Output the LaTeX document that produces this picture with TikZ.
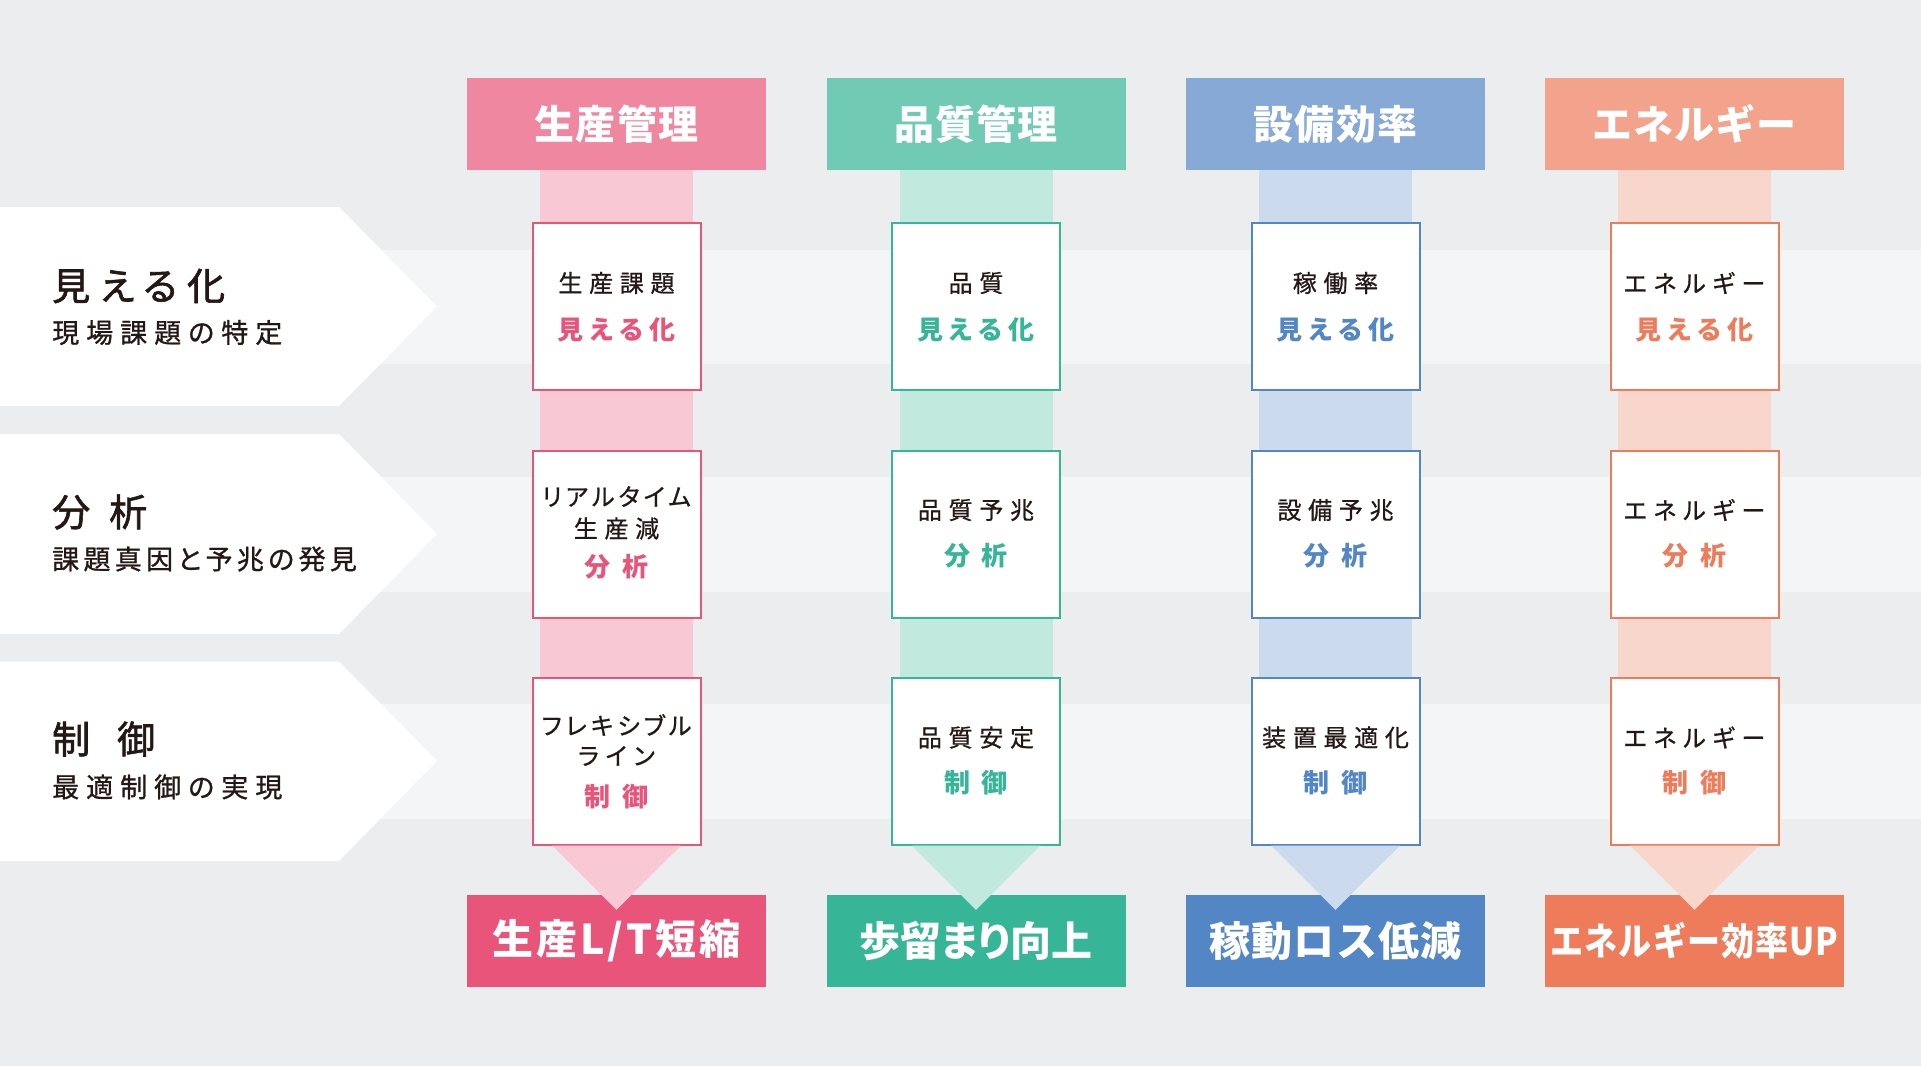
\documentclass[tikz,border=0pt]{standalone}
\usepackage{fontspec}
\setmainfont{Noto Sans CJK JP}
\newfontfamily\jphead[LetterSpace=3]{Noto Sans CJK JP}
\newfontfamily\jpwide[LetterSpace=7]{Noto Sans CJK JP}
\newfontfamily\jptight[LetterSpace=0,RawFeature=+palt]{Noto Sans CJK JP}
\newfontfamily\jpbox[LetterSpace=28,RawFeature=+palt,FakeBold=0.8]{Noto Sans CJK JP}
\newfontfamily\jpboxk[LetterSpace=17,RawFeature=+palt,FakeBold=0.8]{Noto Sans CJK JP}
\newfontfamily\jpcol[LetterSpace=24,RawFeature=+palt]{Noto Sans CJK JP}
\newfontfamily\jpleftt[LetterSpace=26,RawFeature=+palt,FakeBold=1.6]{Noto Sans CJK JP}
\newfontfamily\jpleft[LetterSpace=26,RawFeature=+palt,FakeBold=0.9]{Noto Sans CJK JP}
\newfontfamily\jpleftn[LetterSpace=16,RawFeature=+palt,FakeBold=0.9]{Noto Sans CJK JP}
\definecolor{bg}{HTML}{ECEDEF}
\definecolor{stripe}{HTML}{F4F5F7}
\definecolor{ink}{HTML}{231815}
\definecolor{pinkH}{HTML}{F087A0}
\definecolor{pinkL}{HTML}{F8C9D4}
\definecolor{pinkS}{HTML}{E9547B}
\definecolor{tealH}{HTML}{71CBB4}
\definecolor{tealL}{HTML}{C1E9DE}
\definecolor{tealS}{HTML}{37B597}
\definecolor{blueH}{HTML}{86A9D6}
\definecolor{blueL}{HTML}{CBDAED}
\definecolor{blueS}{HTML}{5286C5}
\definecolor{oranH}{HTML}{F3A28B}
\definecolor{oranL}{HTML}{F8D6CB}
\definecolor{oranS}{HTML}{EE7B5A}
\tikzset{
  head/.style={minimum width=299pt, minimum height=92pt, inner sep=0pt, text=white,
    font=\jphead\bfseries\fontsize{40}{48}\selectfont},
  result/.style={minimum width=299pt, minimum height=92pt, inner sep=0pt, text=white,
    font=\jphead\bfseries\fontsize{41}{48}\selectfont},
  stepbox/.style={draw, line width=2pt, fill=white, minimum width=168pt, minimum height=167pt, inner sep=0pt},
  btxt/.style={inner sep=0pt, text=ink, font=\jpbox\fontsize{24}{28}\selectfont},
  ktxt/.style={inner sep=0pt, text=ink, font=\jpboxk\fontsize{24}{28}\selectfont},
  ctxt/.style={inner sep=0pt, font=\jpcol\bfseries\fontsize{26}{30}\selectfont},
  ltitle/.style={anchor=west, inner sep=0pt, text=ink, font=\jpleftt\fontsize{38}{44}\selectfont},
  lsub/.style={anchor=west, inner sep=0pt, text=ink, font=\jpleft\fontsize{27}{32}\selectfont},
  stage/.style={fill=white},
}
\begin{document}
\begin{tikzpicture}[x=1pt,y=-1pt]
\useasboundingbox (0,0) rectangle (1921,1066);
\fill[bg] (0,0) rectangle (1921,1066);
% light stripes
\fill[stripe] (0,250) rectangle (1921,364);
\fill[stripe] (0,476.5) rectangle (1921,591.5);
\fill[stripe] (0,704) rectangle (1921,819);
% stage arrows (left)
\fill[stage] (0,207) -- (339,207) -- (437,306.5) -- (339,406) -- (0,406) -- cycle;
\fill[stage] (0,434) -- (339,434) -- (437,534) -- (339,634) -- (0,634) -- cycle;
\fill[stage] (0,661.5) -- (339,661.5) -- (437,761) -- (339,861) -- (0,861) -- cycle;
\node[ltitle] (s1t) at (52,286) {見える化};
\node[lsub] (s1s) at (52,332.5) {現場課題の特定};
\node[ltitle] (s2t) at (52,512) {分\hspace{19pt}析};
\node[lsub, font=\jpleftn\fontsize{27}{32}\selectfont] (s2s) at (52,559) {課題真因と予兆の発見};
\node[ltitle] (s3t) at (52,739) {制\hspace{27pt}御};
\node[lsub] (s3s) at (52,787) {最適制御の実現};

% ===== column 1 =====
\node[head, fill=pinkH] (h1) at (616.5,124) {生産管理};
\node[result, fill=pinkS, font=\jpwide\bfseries\fontsize{41}{48}\selectfont] (r1) at (616.5,941) {生産L/T短縮};
\fill[pinkL] ([xshift=-76.5pt]h1.south) rectangle ([xshift=76.5pt,yshift=-675pt]h1.south);
\node[stepbox, draw=pinkS] (a1) at (616.5,306.5) {};
\node[stepbox, draw=pinkS] (a2) at (616.5,534) {};
\node[stepbox, draw=pinkS] (a3) at (616.5,761) {};
\fill[pinkL] ([xshift=-64.5pt]a3.south) -- ([xshift=64.5pt]a3.south) -- ([yshift=-15pt]r1.north) -- cycle;
\node[btxt] (a1x) at (616.5,283) {生産課題};
\node[ctxt, text=pinkS] (a1y) at (616.5,330) {見える化};
\node[ktxt] (a2x) at (616.5,496.5) {リアルタイム};
\node[btxt] (a2y) at (616.5,528.5) {生産減};
\node[ctxt, text=pinkS] (a2z) at (616.5,566.5) {分\hspace{12pt}析};
\node[ktxt] (a3x) at (616.5,725) {フレキシブル};
\node[btxt] (a3y) at (616.5,756) {ライン};
\node[ctxt, text=pinkS] (a3z) at (616.5,797) {制\hspace{12pt}御};

% ===== column 2 =====
\node[head, fill=tealH] (h2) at (976,124) {品質管理};
\node[result, fill=tealS, font=\jptight\bfseries\fontsize{41}{48}\selectfont] (r2) at (976,941) {歩留まり向上};
\fill[tealL] ([xshift=-76.5pt]h2.south) rectangle ([xshift=76.5pt,yshift=-675pt]h2.south);
\node[stepbox, draw=tealS] (b1) at (976,306.5) {};
\node[stepbox, draw=tealS] (b2) at (976,534) {};
\node[stepbox, draw=tealS] (b3) at (976,761) {};
\fill[tealL] ([xshift=-64.5pt]b3.south) -- ([xshift=64.5pt]b3.south) -- ([yshift=-15pt]r2.north) -- cycle;
\node[btxt] (b1x) at (976,283) {品質};
\node[ctxt, text=tealS] (b1y) at (976,330) {見える化};
\node[btxt] (b2x) at (976,510) {品質予兆};
\node[ctxt, text=tealS] (b2y) at (976,556) {分\hspace{12pt}析};
\node[btxt] (b3x) at (976,737.5) {品質安定};
\node[ctxt, text=tealS] (b3y) at (976,783) {制\hspace{12pt}御};

% ===== column 3 =====
\node[head, fill=blueH] (h3) at (1335.5,124) {設備効率};
\node[result, fill=blueS] (r3) at (1335.5,941) {稼動ロス低減};
\fill[blueL] ([xshift=-76.5pt]h3.south) rectangle ([xshift=76.5pt,yshift=-675pt]h3.south);
\node[stepbox, draw=blueS] (c1) at (1335.5,306.5) {};
\node[stepbox, draw=blueS] (c2) at (1335.5,534) {};
\node[stepbox, draw=blueS] (c3) at (1335.5,761) {};
\fill[blueL] ([xshift=-64.5pt]c3.south) -- ([xshift=64.5pt]c3.south) -- ([yshift=-15pt]r3.north) -- cycle;
\node[btxt] (c1x) at (1335.5,283) {稼働率};
\node[ctxt, text=blueS] (c1y) at (1335.5,330) {見える化};
\node[btxt] (c2x) at (1335.5,510) {設備予兆};
\node[ctxt, text=blueS] (c2y) at (1335.5,556) {分\hspace{12pt}析};
\node[btxt] (c3x) at (1335.5,737.5) {装置最適化};
\node[ctxt, text=blueS] (c3y) at (1335.5,783) {制\hspace{12pt}御};

% ===== column 4 =====
\node[head, fill=oranH] (h4) at (1694.5,124) {エネルギー};
\node[result, fill=oranS] (r4) at (1694.5,941) {\scalebox{0.87}[1]{\fontsize{38}{44}\selectfont エネルギー効率UP}};
\fill[oranL] ([xshift=-76.5pt]h4.south) rectangle ([xshift=76.5pt,yshift=-675pt]h4.south);
\node[stepbox, draw=oranS] (d1) at (1694.5,306.5) {};
\node[stepbox, draw=oranS] (d2) at (1694.5,534) {};
\node[stepbox, draw=oranS] (d3) at (1694.5,761) {};
\fill[oranL] ([xshift=-64.5pt]d3.south) -- ([xshift=64.5pt]d3.south) -- ([yshift=-15pt]r4.north) -- cycle;
\node[btxt] (d1x) at (1694.5,283) {エネルギー};
\node[ctxt, text=oranS] (d1y) at (1694.5,330) {見える化};
\node[btxt] (d2x) at (1694.5,510) {エネルギー};
\node[ctxt, text=oranS] (d2y) at (1694.5,556) {分\hspace{12pt}析};
\node[btxt] (d3x) at (1694.5,737.5) {エネルギー};
\node[ctxt, text=oranS] (d3y) at (1694.5,783) {制\hspace{12pt}御};
\end{tikzpicture}
\end{document}
